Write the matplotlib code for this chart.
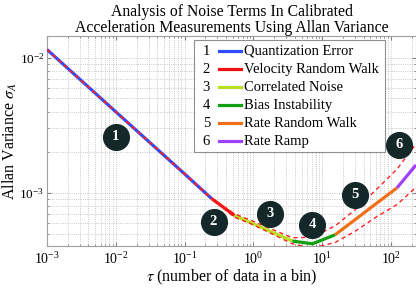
import matplotlib
matplotlib.use("Agg")
import matplotlib.pyplot as plt
from matplotlib.patches import Rectangle
from matplotlib.lines import Line2D

plt.rcParams['font.family'] = ['Liberation Serif', 'DejaVu Serif']
plt.rcParams['mathtext.fontset'] = 'stix'

# Allan variance curve, one list per noise segment (tau, sigma)
seg_names = ["Quantization Error", "Velocity Random Walk", "Correlated Noise",
             "Bias Instability", "Rate Random Walk", "Rate Ramp"]
seg_colors = ["#2f4bff", "#f01010", "#b8e020", "#10a010", "#f07018", "#a040ff"]
seg_tau = [
    [1e-3, 1e-2, 1e-1, 0.245],
    [0.245, 0.53],
    [0.53, 1.0, 3.67],
    [3.67, 7.2, 15.4],
    [15.4, 30, 60, 122],
    [122, 230],
]
seg_val = [
    [0.0115, 3.98e-3, 1.38e-3, 9.1e-4],
    [9.1e-4, 6.8e-4],
    [6.8e-4, 5.9e-4, 4.4e-4],
    [4.4e-4, 4.2e-4, 4.9e-4],
    [4.9e-4, 6.34e-4, 8.3e-4, 1.09e-3],
    [1.09e-3, 1.61e-3],
]

# confidence bounds (red dashed)
bound_tau = [1e-3, 1e-2, 1e-1, 0.245, 0.53, 1.0, 3.67, 7.2, 15.4, 30, 60, 122, 230]
upper = [0.0115, 3.98e-3, 1.39e-3, 9.2e-4, 7.0e-4, 6.15e-4, 4.65e-4, 4.7e-4,
         5.7e-4, 7.5e-4, 1.05e-3, 1.5e-3, 2.3e-3]
lower = [0.0115, 3.98e-3, 1.37e-3, 9.0e-4, 6.6e-4, 5.8e-4, 4.2e-4, 3.9e-4,
         4.3e-4, 5.2e-4, 6.6e-4, 8.2e-4, 1.1e-3]

# numbered circle labels
badge_tau = [0.01, 0.263, 1.76, 7.2, 30, 130]
badge_val = [2.6e-3, 6.1e-4, 6.98e-4, 5.8e-4, 9.7e-4, 2.27e-3]

fig = plt.figure(figsize=(4.16, 2.90), dpi=100)
ax = fig.add_axes([0.113, 0.152, 0.887, 0.724])

for t, v, c in zip(seg_tau, seg_val, seg_colors):
    ax.plot(t, v, color=c, lw=2.3, solid_capstyle='butt', zorder=3)
ax.plot(bound_tau, upper, color='#ff2020', lw=1.0, ls=(0, (3, 2.5)), zorder=4)
ax.plot(bound_tau, lower, color='#ff2020', lw=1.0, ls=(0, (3, 2.5)), zorder=4)

for i, (t, v) in enumerate(zip(badge_tau, badge_val)):
    ax.plot(t, v, 'o', ms=18.5, color='#14282a', zorder=6, clip_on=False)
    ax.text(t, v, str(i + 1), color='white', fontsize=10.5, fontweight='bold',
            ha='center', va='center', zorder=7)

ax.set_xscale('log')
ax.set_yscale('log')
ax.set_xlim(1e-3, 230)
ax.set_ylim(4.05e-4, 1.45e-2)
ax.grid(True, which='both', ls=':', lw=0.6, color='#b8b8b8')
ax.tick_params(which='both', direction='in', top=True, right=True,
               labelsize=10, color='#808080')
ax.tick_params(axis='y', labelsize=9.5, pad=2)
ax.tick_params(which='major', length=3)
ax.tick_params(which='minor', length=1.5)
for s in ax.spines.values():
    s.set_color('#a0a0a0')

ax.set_xlabel(r'$\tau$ (number of data in a bin)', fontsize=11.5, labelpad=1)
ax.set_ylabel(r'Allan Variance $\sigma_A$', fontsize=11.5)
ax.yaxis.set_label_coords(-0.075, 0.5)
ax.set_title('Analysis of Noise Terms In Calibrated\n'
             'Acceleration Measurements Using Allan Variance',
             fontsize=11.3, linespacing=1.0, pad=3)

# legend box drawn by hand (number, line, label)
ax.add_patch(Rectangle((0.398, 0.448), 0.518, 0.533, transform=ax.transAxes,
                       facecolor='white', edgecolor='#909090', lw=0.8, zorder=8))
for i, (name, c) in enumerate(zip(seg_names, seg_colors)):
    y = 0.928 - i * 0.0857
    ax.text(0.432, y, str(i + 1), transform=ax.transAxes, fontsize=10.5,
            ha='center', va='center', zorder=9)
    ax.add_line(Line2D([0.466, 0.526], [y, y], transform=ax.transAxes,
                       color=c, lw=2.3, zorder=9))
    ax.text(0.533, y, name, transform=ax.transAxes, fontsize=10.5,
            ha='left', va='center', zorder=9)

fig.savefig('out.png', dpi=100)
